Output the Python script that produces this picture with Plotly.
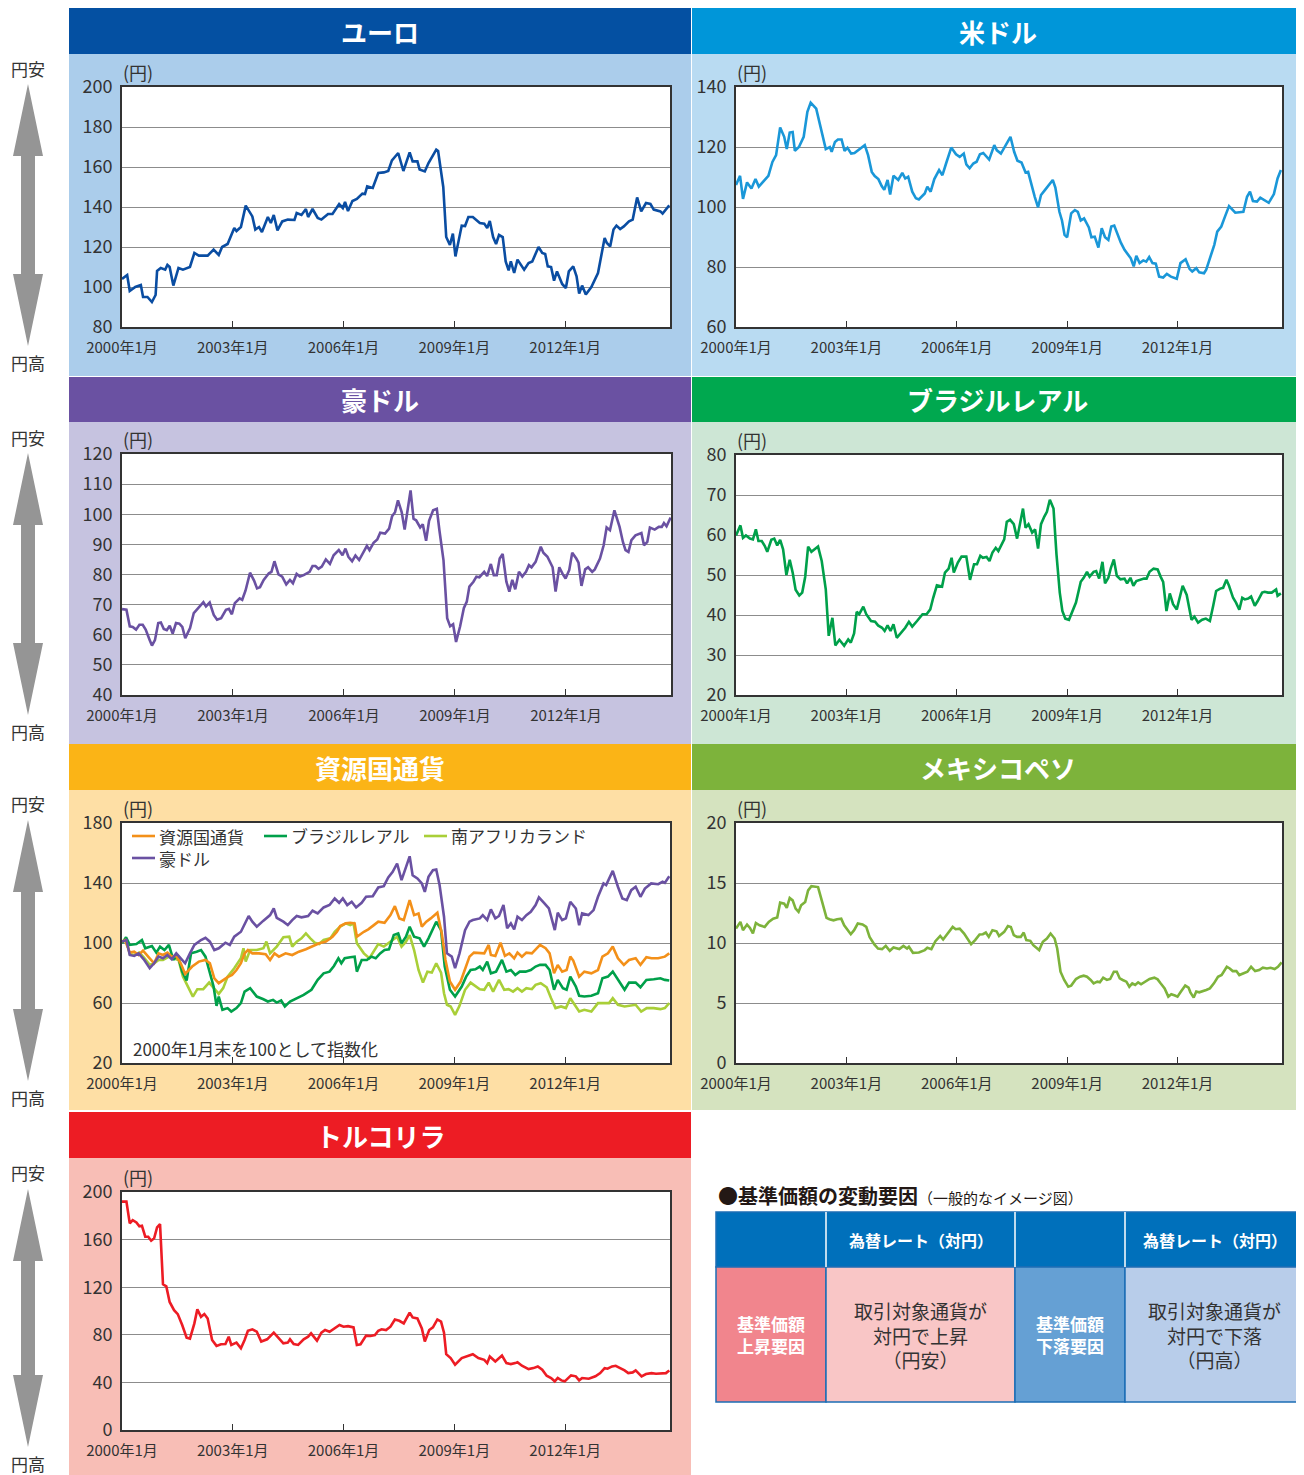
import plotly.graph_objects as go

# The page adds an 8px body margin, so the figure is drawn 8px smaller and
# all positions (given in reference-image pixels) are shifted by that margin.
OFF = 8
W, H = 1304 - OFF, 1475 - OFF
FONT = "Noto Sans CJK JP"

def px(x):
    return (x - OFF) / W

def py(y):
    return 1 - (y - OFF) / H

# ---------------- data (decimal year, value in yen) ----------------
EUR_T = [2000.00, 2000.14, 2000.21, 2000.36, 2000.51, 2000.57, 2000.69, 2000.81, 2000.91, 2000.95,
         2001.05, 2001.17, 2001.23, 2001.29, 2001.39, 2001.53, 2001.65, 2001.84, 2001.96, 2002.08,
         2002.32, 2002.48, 2002.62, 2002.71, 2002.86, 2003.04, 2003.10, 2003.22, 2003.35, 2003.53,
         2003.61, 2003.71, 2003.79, 2003.95, 2004.03, 2004.11, 2004.21, 2004.34, 2004.49, 2004.67,
         2004.73, 2004.86, 2004.98, 2005.04, 2005.16, 2005.30, 2005.40, 2005.58, 2005.70, 2005.88,
         2005.98, 2006.04, 2006.12, 2006.24, 2006.36, 2006.51, 2006.58, 2006.64, 2006.79, 2006.94,
         2007.09, 2007.21, 2007.31, 2007.48, 2007.62, 2007.79, 2007.87, 2008.00, 2008.06, 2008.20,
         2008.30, 2008.38, 2008.51, 2008.56, 2008.70, 2008.78, 2008.88, 2008.96, 2009.03, 2009.20,
         2009.29, 2009.38, 2009.50, 2009.69, 2009.81, 2009.89, 2009.96, 2010.05, 2010.13, 2010.21,
         2010.31, 2010.39, 2010.47, 2010.53, 2010.62, 2010.71, 2010.89, 2011.01, 2011.11, 2011.28,
         2011.38, 2011.46, 2011.53, 2011.62, 2011.70, 2011.78, 2011.92, 2012.02, 2012.10, 2012.22,
         2012.31, 2012.38, 2012.46, 2012.56, 2012.71, 2012.89, 2012.98, 2013.07, 2013.13, 2013.22,
         2013.31, 2013.39, 2013.49, 2013.59, 2013.73, 2013.83, 2013.95, 2014.06, 2014.19, 2014.31,
         2014.40, 2014.58, 2014.64, 2014.82]
EUR_V = [104, 106, 98, 100, 101, 95, 95, 92.5, 96, 108,
         109.5, 108.7, 111, 110, 100.7, 109.5, 108.7, 110, 117, 115.7,
         115.7, 118.7, 116, 120, 121.5, 129.5, 128, 130, 140.7, 135.3,
         128.7, 130, 127.5, 135, 132, 136, 128.3, 132.8, 133.7, 133.5,
         137, 136, 139, 135, 139, 134.5, 133.7, 136.5, 136.5, 141.5,
         139.5, 142.5, 138, 143, 144, 146.7, 146.5, 150.3, 149.5, 157,
         157.3, 158, 163.3, 167, 158, 167.3, 162.8, 162.8, 158.7, 157.8,
         162, 164.5, 168.7, 168, 150, 125, 121, 126.7, 115.3, 130.7,
         130.5, 135, 135, 132, 131.7, 129.5, 133, 125, 121.5, 126,
         125, 112.8, 108.3, 112.8, 107, 113.7, 108.7, 112, 112.8, 120,
         117, 116.5, 110.3, 110, 103.2, 107.8, 101.5, 99.5, 107.8, 110.3,
         105.3, 96.7, 100.7, 96.2, 100, 107, 115.3, 124.5, 122, 120.3,
         128.7, 130.7, 129, 130.3, 132.8, 133.7, 144.8, 137.8, 142, 141.5,
         138.7, 137.8, 136.7, 140.8]

USD_T = [2000.00, 2000.11, 2000.19, 2000.30, 2000.42, 2000.53, 2000.62, 2000.77, 2000.88, 2000.99,
         2001.09, 2001.20, 2001.31, 2001.38, 2001.46, 2001.54, 2001.60, 2001.71, 2001.84, 2001.94,
         2002.03, 2002.18, 2002.31, 2002.44, 2002.55, 2002.60, 2002.69, 2002.77, 2002.87, 2002.95,
         2003.03, 2003.13, 2003.22, 2003.32, 2003.50, 2003.59, 2003.69, 2003.77, 2003.87, 2003.96,
         2004.03, 2004.12, 2004.19, 2004.28, 2004.41, 2004.52, 2004.60, 2004.68, 2004.79, 2004.89,
         2004.97, 2005.13, 2005.20, 2005.29, 2005.39, 2005.52, 2005.61, 2005.71, 2005.85, 2005.98,
         2006.08, 2006.19, 2006.26, 2006.35, 2006.45, 2006.54, 2006.63, 2006.72, 2006.88, 2007.02,
         2007.09, 2007.20, 2007.34, 2007.46, 2007.56, 2007.65, 2007.76, 2007.87, 2007.94, 2008.05,
         2008.12, 2008.21, 2008.29, 2008.40, 2008.50, 2008.61, 2008.68, 2008.79, 2008.86, 2008.93,
         2009.00, 2009.11, 2009.21, 2009.29, 2009.37, 2009.46, 2009.59, 2009.66, 2009.75, 2009.85,
         2009.94, 2010.03, 2010.12, 2010.20, 2010.28, 2010.36, 2010.46, 2010.56, 2010.65, 2010.73,
         2010.81, 2010.88, 2010.97, 2011.07, 2011.15, 2011.23, 2011.32, 2011.41, 2011.50, 2011.61,
         2011.71, 2011.82, 2011.98, 2012.08, 2012.22, 2012.33, 2012.40, 2012.51, 2012.59, 2012.72,
         2012.78, 2012.89, 2013.00, 2013.08, 2013.19, 2013.29, 2013.40, 2013.57, 2013.79, 2013.89,
         2013.97, 2014.05, 2014.16, 2014.25, 2014.37, 2014.48, 2014.62, 2014.72, 2014.81]
USD_V = [107.3, 110.4, 102.7, 108.2, 106.2, 109.3, 106.8, 108.8, 110.4, 115,
         117.3, 126.5, 123.4, 119.3, 124.8, 125, 118.7, 120, 123.4, 131.7,
         134.8, 132.8, 126.2, 119.3, 120, 118.4, 121.7, 122.5, 122.5, 118.7,
         119.7, 117.8, 118, 118.9, 120.6, 117.3, 111.7, 110.3, 109.3, 107,
         105.7, 109, 104.2, 110.4, 109, 111.4, 109.5, 110.1, 105.1, 102.9,
         102.5, 104.5, 106.8, 105.1, 109.3, 112.3, 110.6, 114.5, 119.8, 117.6,
         116.7, 117.8, 114.2, 112.9, 114.5, 115.1, 117.6, 118, 115.8, 120.6,
         118.9, 117.8, 120.9, 123.4, 118.4, 115.4, 114.8, 111.5, 111.7, 106.2,
         103.4, 99.9, 104, 105.7, 107.3, 109, 106.5, 98.4, 95.5, 90.7,
         89.9, 97.9, 99, 98.4, 95.5, 96.2, 93.2, 89.9, 90.1, 86.5,
         92.9, 89.9, 89, 93.5, 93.8, 91.2, 88.1, 85.7, 84, 82.9,
         80.2, 83.7, 81.3, 82.2, 81.8, 83.3, 81.3, 81.1, 76.8, 76.5,
         77.7, 76.8, 76.1, 81.3, 82.6, 79.3, 78.5, 79.6, 78.2, 77.9,
         79.1, 82.9, 87.4, 91.8, 93.5, 96.8, 100.3, 98.1, 98.4, 103.4,
         105.1, 102, 101.8, 103.1, 102.1, 101.4, 104.3, 109.5, 112.3]

AUD_T = [2000.00, 2000.12, 2000.21, 2000.29, 2000.38, 2000.47, 2000.56, 2000.64, 2000.75, 2000.81,
         2000.89, 2000.98, 2001.05, 2001.13, 2001.21, 2001.29, 2001.37, 2001.46, 2001.55, 2001.63,
         2001.71, 2001.84, 2001.94, 2002.08, 2002.20, 2002.27, 2002.37, 2002.48, 2002.57, 2002.68,
         2002.81, 2002.89, 2002.97, 2003.05, 2003.18, 2003.25, 2003.34, 2003.46, 2003.57, 2003.65,
         2003.73, 2003.83, 2003.97, 2004.04, 2004.12, 2004.23, 2004.33, 2004.44, 2004.54, 2004.62,
         2004.72, 2004.81, 2004.91, 2005.07, 2005.15, 2005.23, 2005.31, 2005.40, 2005.51, 2005.62,
         2005.72, 2005.86, 2005.96, 2006.04, 2006.12, 2006.22, 2006.31, 2006.41, 2006.54, 2006.62,
         2006.69, 2006.80, 2006.90, 2006.98, 2007.11, 2007.22, 2007.30, 2007.38, 2007.46, 2007.56,
         2007.64, 2007.71, 2007.80, 2007.88, 2007.95, 2008.06, 2008.13, 2008.22, 2008.30, 2008.41,
         2008.51, 2008.58, 2008.69, 2008.79, 2008.87, 2008.95, 2009.03, 2009.14, 2009.24, 2009.32,
         2009.39, 2009.50, 2009.58, 2009.66, 2009.79, 2009.87, 2009.97, 2010.05, 2010.13, 2010.21,
         2010.29, 2010.39, 2010.47, 2010.55, 2010.63, 2010.73, 2010.82, 2010.92, 2011.00, 2011.07,
         2011.18, 2011.32, 2011.39, 2011.50, 2011.64, 2011.72, 2011.82, 2011.91, 2011.99, 2012.09,
         2012.17, 2012.28, 2012.34, 2012.42, 2012.52, 2012.60, 2012.71, 2012.78, 2012.92, 2013.02,
         2013.10, 2013.19, 2013.25, 2013.31, 2013.45, 2013.54, 2013.61, 2013.69, 2013.77, 2013.88,
         2014.04, 2014.11, 2014.20, 2014.27, 2014.40, 2014.51, 2014.59, 2014.65, 2014.72, 2014.83]
AUD_V = [68.5, 68.3, 62.8, 62.6, 61.7, 63.3, 63.3, 61.7, 58.2, 56.4,
         58.2, 63.9, 64.1, 61.9, 61.5, 63, 60.4, 63.9, 63.7, 62.6,
         58.9, 62.2, 67.2, 69.2, 70.8, 69.4, 70.7, 66.6, 65, 65.5,
         68.3, 68.6, 66.8, 70.5, 72.1, 71.6, 74.7, 80.6, 78, 75.4,
         75.8, 78.2, 80.4, 80.9, 84.4, 80, 79.3, 76.7, 78.2, 77.1,
         80.2, 79.3, 79.8, 80.9, 82.8, 82.8, 81.9, 82.6, 85, 83.5,
         86.4, 88.1, 86.4, 88.6, 85.9, 84.4, 86.3, 84.8, 87.9, 89.5,
         88.1, 90.5, 91.6, 93.9, 93.6, 95.2, 99.3, 100.7, 104.6, 100.7,
         94.9, 101.3, 107.9, 98.5, 98, 95.6, 96.7, 91.2, 97.8, 101.3,
         101.8, 94.7, 84.8, 65.5, 62.8, 63.5, 57.6, 62.8, 68.8, 71,
         76, 77.6, 79.3, 79.1, 80.9, 79.5, 83.5, 79.8, 79.8, 85.3,
         86.8, 77.6, 74.3, 78.2, 75.1, 80.9, 79.3, 80.9, 83.1, 82.4,
         84.2, 89.2, 87.2, 85.9, 82.4, 74.3, 82.4, 80.2, 78.7, 81.5,
         87.2, 85.3, 83.9, 76.2, 81.7, 82.4, 80.9, 81.7, 85.3, 89.7,
         95.6, 94.7, 98.2, 101.3, 95.8, 90.8, 88.1, 87.5, 91.4, 93,
         93.8, 89.7, 90.8, 95.6, 94.9, 95.8, 95.8, 97.1, 96, 98.9]

BRL_T = [2000.00, 2000.12, 2000.19, 2000.27, 2000.38, 2000.46, 2000.54, 2000.61, 2000.70, 2000.78,
         2000.85, 2000.96, 2001.04, 2001.12, 2001.20, 2001.28, 2001.37, 2001.46, 2001.54, 2001.62,
         2001.72, 2001.80, 2001.88, 2001.96, 2002.05, 2002.23, 2002.33, 2002.44, 2002.52, 2002.62,
         2002.70, 2002.81, 2002.94, 2003.05, 2003.12, 2003.21, 2003.28, 2003.35, 2003.46, 2003.54,
         2003.67, 2003.78, 2003.86, 2003.97, 2004.04, 2004.12, 2004.20, 2004.28, 2004.37, 2004.49,
         2004.60, 2004.70, 2004.79, 2004.92, 2005.07, 2005.18, 2005.28, 2005.36, 2005.46, 2005.60,
         2005.68, 2005.78, 2005.86, 2005.92, 2006.03, 2006.13, 2006.26, 2006.36, 2006.47, 2006.55,
         2006.64, 2006.71, 2006.81, 2006.89, 2006.97, 2007.06, 2007.13, 2007.29, 2007.36, 2007.45,
         2007.55, 2007.64, 2007.71, 2007.80, 2007.87, 2007.95, 2008.05, 2008.13, 2008.21, 2008.29,
         2008.38, 2008.45, 2008.53, 2008.63, 2008.71, 2008.80, 2008.87, 2008.95, 2009.05, 2009.14,
         2009.24, 2009.37, 2009.45, 2009.54, 2009.61, 2009.72, 2009.79, 2009.87, 2009.96, 2010.03,
         2010.12, 2010.19, 2010.27, 2010.35, 2010.45, 2010.56, 2010.63, 2010.72, 2010.80, 2010.88,
         2010.98, 2011.09, 2011.16, 2011.24, 2011.35, 2011.46, 2011.54, 2011.61, 2011.70, 2011.79,
         2011.88, 2011.98, 2012.14, 2012.25, 2012.38, 2012.46, 2012.56, 2012.67, 2012.77, 2012.88,
         2012.97, 2013.05, 2013.16, 2013.24, 2013.33, 2013.40, 2013.51, 2013.59, 2013.68, 2013.76,
         2013.83, 2013.92, 2014.00, 2014.10, 2014.18, 2014.30, 2014.37, 2014.46, 2014.56, 2014.68,
         2014.72, 2014.81]
BRL_V = [59.9, 62.4, 59.3, 59.9, 59.1, 58.9, 61.4, 58.5, 58.5, 57.3,
         55.8, 58.8, 59.1, 57.4, 58.8, 56.4, 50, 53.8, 50.6, 46.3,
         44.9, 45.6, 49.5, 57.1, 55.8, 57.1, 53.5, 46.4, 34.8, 39.3,
         32.4, 33.8, 32.3, 33.9, 33.1, 35.4, 40.8, 40.2, 42.1, 40.2,
         38.5, 38.3, 37.4, 36.8, 36, 37.4, 36, 37.7, 34.3, 35.6,
         36.8, 38.3, 37.1, 38.5, 40.2, 40.2, 41.4, 44.3, 47.4, 47.1,
         50.6, 51.6, 54.3, 50.6, 53.1, 54.6, 54.6, 48.8, 52.7, 52.7,
         54.8, 54.3, 54.5, 53.5, 55.6, 56.8, 56, 58.9, 63.3, 63.8,
         62.7, 59.1, 62.7, 66.6, 61.8, 62.7, 60.6, 61.4, 56.6, 62.7,
         64.6, 65.8, 68.8, 66.6, 55.2, 45.6, 41, 39.1, 38.8, 40.8,
         43.1, 48.3, 49.3, 50.8, 49.6, 50.8, 51, 49.1, 53.3, 47.9,
         49.3, 51.8, 53.9, 49.8, 48.9, 49.1, 47.9, 49.3, 47.3, 48.5,
         48.8, 49.1, 49.1, 50.8, 51.6, 51.4, 49.6, 48.3, 41, 45.4,
         42.7, 41.4, 47.3, 45, 38.8, 39.6, 38.1, 38.8, 39.1, 38.5,
         42.3, 46, 46.6, 46.8, 48.8, 47.3, 44.3, 43.1, 41.3, 44.3,
         43.9, 44.1, 44.6, 42.3, 43.5, 45.6, 45.8, 45.6, 45.6, 46.4,
         44.8, 45.4]

MXN_T = [2000.00, 2000.12, 2000.19, 2000.30, 2000.38, 2000.46, 2000.54, 2000.64, 2000.78, 2000.89,
         2001.01, 2001.12, 2001.20, 2001.31, 2001.38, 2001.46, 2001.54, 2001.62, 2001.70, 2001.77,
         2001.88, 2001.96, 2002.05, 2002.23, 2002.33, 2002.46, 2002.54, 2002.65, 2002.75, 2002.86,
         2002.94, 2003.04, 2003.12, 2003.21, 2003.31, 2003.44, 2003.54, 2003.63, 2003.76, 2003.86,
         2003.97, 2004.07, 2004.18, 2004.28, 2004.44, 2004.55, 2004.65, 2004.70, 2004.81, 2004.97,
         2005.13, 2005.20, 2005.31, 2005.42, 2005.55, 2005.63, 2005.74, 2005.83, 2005.89, 2005.97,
         2006.08, 2006.20, 2006.29, 2006.39, 2006.50, 2006.62, 2006.71, 2006.79, 2006.87, 2006.97,
         2007.08, 2007.15, 2007.29, 2007.39, 2007.47, 2007.55, 2007.64, 2007.74, 2007.82, 2007.89,
         2008.00, 2008.08, 2008.24, 2008.34, 2008.45, 2008.55, 2008.66, 2008.73, 2008.82, 2008.92,
         2009.03, 2009.11, 2009.24, 2009.35, 2009.45, 2009.54, 2009.64, 2009.72, 2009.82, 2009.89,
         2009.98, 2010.08, 2010.17, 2010.27, 2010.35, 2010.43, 2010.51, 2010.61, 2010.69, 2010.77,
         2010.85, 2010.93, 2011.01, 2011.12, 2011.24, 2011.37, 2011.46, 2011.54, 2011.65, 2011.75,
         2011.83, 2011.93, 2012.00, 2012.08, 2012.21, 2012.30, 2012.35, 2012.44, 2012.51, 2012.59,
         2012.67, 2012.78, 2012.88, 2012.99, 2013.10, 2013.20, 2013.34, 2013.42, 2013.50, 2013.60,
         2013.68, 2013.79, 2013.90, 2014.00, 2014.11, 2014.22, 2014.32, 2014.43, 2014.53, 2014.64,
         2014.73, 2014.83]
MXN_V = [11.2, 11.76, 11.07, 11.54, 11.26, 10.79, 11.67, 11.48, 11.34, 11.76,
         12.03, 12.12, 13.36, 13.28, 12.92, 13.75, 13.55, 12.86, 12.59, 13.14,
         13.42, 14.38, 14.74, 14.66, 13.55, 12.09, 11.98, 11.89, 11.98, 12.03,
         11.48, 11.07, 10.73, 11.07, 11.62, 11.54, 11.34, 10.51, 9.88, 9.54,
         9.49, 9.76, 9.35, 9.63, 9.49, 9.76, 9.54, 9.68, 9.18, 9.21,
         9.41, 9.6, 9.49, 10.15, 10.59, 10.29, 10.71, 11.07, 11.34, 11.15,
         11.2, 10.79, 10.32, 9.9, 10.24, 10.71, 10.73, 10.87, 10.51, 11.07,
         10.98, 10.59, 10.93, 11.42, 11.34, 10.65, 10.51, 10.51, 10.87, 10.24,
         10.18, 9.82, 9.41, 10.1, 10.37, 10.79, 10.37, 9.54, 7.61, 6.92,
         6.36, 6.45, 7.0, 7.19, 7.28, 7.19, 6.92, 6.64, 6.78, 6.72,
         7.11, 6.92, 7.0, 7.61, 7.61, 7.05, 6.92, 6.78, 6.36, 6.64,
         6.5, 6.72, 6.56, 6.78, 7.0, 7.11, 6.97, 6.64, 6.22, 5.53,
         5.73, 5.62, 5.53, 5.89, 6.45, 6.28, 5.89, 5.45, 5.95, 5.89,
         5.95, 6.09, 6.22, 6.64, 7.19, 7.33, 8.02, 7.88, 7.66, 7.66,
         7.33, 7.47, 7.61, 8.02, 7.66, 7.75, 7.94, 7.88, 7.94, 7.83,
         8.02, 8.38]

TRY_T = [2000.00, 2000.12, 2000.21, 2000.29, 2000.39, 2000.47, 2000.54, 2000.63, 2000.71, 2000.79,
         2000.87, 2000.95, 2001.03, 2001.11, 2001.20, 2001.29, 2001.41, 2001.51, 2001.63, 2001.75,
         2001.84, 2001.96, 2002.04, 2002.14, 2002.23, 2002.32, 2002.44, 2002.56, 2002.68, 2002.80,
         2002.89, 2002.96, 2003.10, 2003.22, 2003.32, 2003.41, 2003.53, 2003.65, 2003.77, 2003.93,
         2004.11, 2004.25, 2004.37, 2004.49, 2004.55, 2004.65, 2004.77, 2004.92, 2005.04, 2005.12,
         2005.28, 2005.40, 2005.50, 2005.62, 2005.74, 2005.89, 2006.00, 2006.12, 2006.27, 2006.36,
         2006.46, 2006.61, 2006.73, 2006.85, 2006.94, 2007.03, 2007.15, 2007.27, 2007.39, 2007.51,
         2007.63, 2007.79, 2007.87, 2008.00, 2008.12, 2008.20, 2008.32, 2008.42, 2008.54, 2008.64,
         2008.72, 2008.78, 2008.90, 2009.02, 2009.20, 2009.32, 2009.50, 2009.65, 2009.81, 2009.89,
         2009.96, 2010.11, 2010.29, 2010.41, 2010.53, 2010.65, 2010.71, 2010.83, 2011.01, 2011.14,
         2011.26, 2011.38, 2011.50, 2011.62, 2011.72, 2011.80, 2011.90, 2011.99, 2012.16, 2012.29,
         2012.38, 2012.46, 2012.64, 2012.82, 2012.95, 2013.07, 2013.15, 2013.27, 2013.37, 2013.49,
         2013.61, 2013.71, 2013.83, 2013.91, 2014.07, 2014.19, 2014.34, 2014.46, 2014.58, 2014.73,
         2014.82]
TRY_V = [191.9, 191.9, 173.6, 176.4, 174.4, 171.1, 171.6, 162.4, 162.4, 159.1,
         161.1, 170.2, 173, 122.4, 120.7, 107.6, 100.7, 97.4, 88.2, 77.6,
         76.8, 89.6, 101.5, 95.1, 97.4, 93.7, 75.7, 70.7, 72, 72.3,
         78.4, 71.5, 73.4, 68.7, 75.7, 83.4, 84.6, 82.6, 74.3, 76.2,
         81.8, 77.1, 72.9, 73.4, 76.2, 72.3, 71.5, 76.2, 78.4, 81.2,
         75.1, 81.8, 84, 82.6, 85.4, 88.2, 86.8, 87.3, 86.2, 71.5,
         72, 79.3, 79, 79.8, 83.4, 84.6, 84, 86.8, 92.9, 91.8,
         89.6, 98.7, 94.6, 93.7, 85.4, 74.3, 84, 86.2, 92.9, 91,
         81.8, 63.7, 60.4, 54.8, 60.4, 61.8, 63.7, 60.4, 59, 56.2,
         61.8, 57.6, 62.6, 56.2, 55.4, 56.2, 57, 54, 51.2, 52,
         53.4, 50.6, 45.6, 43.7, 40.9, 43.7, 41.7, 40.9, 45.9, 45.1,
         41.7, 43.7, 43.1, 45.1, 47.8, 52, 51.5, 53.4, 54, 52,
         50.1, 47.8, 48.4, 50.1, 45.1, 47, 47.8, 47.3, 47.8, 47.8,
         50.1]

# resource-currency index chart (2000年1月末 = 100)
RES_T = [2000.00, 2000.08, 2000.21, 2000.33, 2000.45, 2000.57, 2000.75, 2000.87, 2000.99, 2001.11,
         2001.23, 2001.35, 2001.47, 2001.59, 2001.71, 2001.90, 2002.08, 2002.26, 2002.38, 2002.50,
         2002.62, 2002.74, 2002.86, 2002.98, 2003.10, 2003.22, 2003.32, 2003.41, 2003.53, 2003.71,
         2003.89, 2004.01, 2004.13, 2004.25, 2004.43, 2004.61, 2004.79, 2004.98, 2005.16, 2005.34,
         2005.52, 2005.70, 2005.82, 2005.91, 2006.06, 2006.18, 2006.30, 2006.36, 2006.55, 2006.67,
         2006.82, 2006.94, 2007.11, 2007.27, 2007.39, 2007.51, 2007.63, 2007.79, 2007.91, 2008.03,
         2008.12, 2008.24, 2008.36, 2008.54, 2008.66, 2008.76, 2008.88, 2009.02, 2009.17, 2009.29,
         2009.41, 2009.53, 2009.69, 2009.81, 2009.93, 2009.99, 2010.11, 2010.25, 2010.37, 2010.49,
         2010.62, 2010.71, 2010.83, 2010.95, 2011.10, 2011.20, 2011.32, 2011.47, 2011.58, 2011.70,
         2011.80, 2011.92, 2012.04, 2012.14, 2012.22, 2012.38, 2012.52, 2012.71, 2012.89, 2013.01,
         2013.16, 2013.29, 2013.43, 2013.59, 2013.73, 2013.91, 2014.04, 2014.20, 2014.34, 2014.52,
         2014.70, 2014.82]
RES_V = [100.9, 102, 93.6, 94.2, 92, 94.9, 89.8, 86.5, 93.1, 92,
         93.6, 90.9, 91.4, 86.5, 79.4, 84.3, 87.6, 88.7, 86.5, 76.5,
         73.2, 75.4, 77.2, 78.7, 82, 86.5, 93.1, 95.3, 93.1, 93.1,
         92.5, 88.7, 93.1, 90.9, 93.1, 92, 94.2, 95.8, 97.6, 99.8,
         100.9, 104.2, 107.5, 111.3, 113.1, 113.5, 113.1, 104.2, 107.5, 109.1,
         111.9, 114.2, 113.5, 118.6, 124.6, 116.4, 115.3, 128.6, 118.6, 119.7,
         110.9, 114.2, 116.4, 120.2, 106.4, 88.7, 74.3, 68.8, 74.3, 83.2,
         90.9, 93.6, 93.1, 93.1, 98.7, 92, 91.4, 100.2, 91.4, 93.1,
         89.8, 93.6, 90.9, 93.6, 93.1, 95.8, 98.7, 96.5, 93.1, 79.8,
         85.4, 80.9, 82, 90.9, 88.3, 77.6, 80.9, 79.8, 82, 90.9,
         93.1, 97.6, 89.8, 85.4, 88.7, 89.8, 85.4, 90.5, 89.8, 89.8,
         90.9, 93.1]

BRLI_T = [2000.00, 2000.11, 2000.21, 2000.39, 2000.54, 2000.63, 2000.81, 2000.93, 2001.03, 2001.15,
          2001.27, 2001.39, 2001.51, 2001.63, 2001.75, 2001.87, 2002.02, 2002.14, 2002.26, 2002.38,
          2002.48, 2002.56, 2002.62, 2002.72, 2002.86, 2002.96, 2003.10, 2003.22, 2003.32, 2003.47,
          2003.65, 2003.83, 2003.95, 2004.09, 2004.19, 2004.31, 2004.41, 2004.55, 2004.73, 2004.92,
          2005.13, 2005.30, 2005.46, 2005.62, 2005.74, 2005.86, 2005.94, 2006.03, 2006.18, 2006.30,
          2006.36, 2006.49, 2006.63, 2006.75, 2006.87, 2006.99, 2007.11, 2007.23, 2007.36, 2007.48,
          2007.57, 2007.69, 2007.79, 2007.91, 2008.06, 2008.18, 2008.30, 2008.42, 2008.51, 2008.64,
          2008.74, 2008.88, 2009.02, 2009.20, 2009.32, 2009.44, 2009.57, 2009.69, 2009.77, 2009.89,
          2009.99, 2010.13, 2010.29, 2010.41, 2010.53, 2010.65, 2010.77, 2010.93, 2011.07, 2011.20,
          2011.32, 2011.47, 2011.58, 2011.70, 2011.80, 2011.94, 2012.04, 2012.14, 2012.29, 2012.38,
          2012.52, 2012.71, 2012.89, 2013.01, 2013.16, 2013.29, 2013.43, 2013.61, 2013.73, 2013.91,
          2014.04, 2014.20, 2014.40, 2014.58, 2014.70, 2014.82]
BRLI_V = [99.8, 103.8, 98.7, 99.3, 102, 96.5, 98, 93.6, 97.6, 95.3,
          98.7, 88.7, 92, 80.9, 75, 93.1, 94.2, 95.3, 90.9, 80.9,
          71, 58.1, 64.3, 55.5, 56.6, 54.3, 56.6, 59.9, 67.6, 69.9,
          64.3, 62.5, 61, 62.1, 60.3, 61.7, 57.7, 61, 63.2, 65.4,
          68.8, 75.4, 79.8, 80.9, 84.7, 89.8, 86.5, 89.8, 90.5, 90.9,
          80.9, 88.7, 88.7, 90.9, 89.8, 93.1, 95.3, 95.8, 105.3, 106.4,
          99.8, 104.2, 110.9, 104.2, 103.1, 97.6, 103.1, 109.1, 114.2, 108.6,
          84.3, 68.8, 64.3, 71, 77.6, 82, 82.5, 84.3, 82, 87.6,
          79.8, 80.9, 88.7, 80.9, 82, 78.7, 80.9, 80.9, 82, 84.3,
          85.4, 85.4, 82, 68.8, 75.4, 69.9, 68.8, 77.6, 71, 64.8,
          64.3, 64.8, 66.5, 76.5, 77.6, 80.9, 75.4, 68.8, 73.6, 73.6,
          70.5, 75.4, 75.8, 76.5, 75.4, 75]

ZAR_T = [2000.00, 2000.11, 2000.21, 2000.33, 2000.47, 2000.59, 2000.75, 2000.87, 2000.99, 2001.11,
         2001.27, 2001.41, 2001.53, 2001.65, 2001.77, 2001.92, 2002.04, 2002.20, 2002.36, 2002.50,
         2002.62, 2002.74, 2002.86, 2003.04, 2003.22, 2003.29, 2003.35, 2003.47, 2003.65, 2003.83,
         2003.91, 2004.01, 2004.19, 2004.37, 2004.53, 2004.61, 2004.73, 2004.86, 2004.98, 2005.10,
         2005.22, 2005.34, 2005.46, 2005.64, 2005.76, 2005.91, 2006.06, 2006.18, 2006.27, 2006.36,
         2006.55, 2006.70, 2006.82, 2006.94, 2007.09, 2007.21, 2007.33, 2007.45, 2007.57, 2007.69,
         2007.79, 2007.91, 2008.03, 2008.15, 2008.27, 2008.39, 2008.51, 2008.64, 2008.72, 2008.80,
         2008.90, 2009.02, 2009.14, 2009.29, 2009.44, 2009.57, 2009.69, 2009.81, 2009.93, 2010.05,
         2010.21, 2010.35, 2010.47, 2010.59, 2010.71, 2010.83, 2010.95, 2011.10, 2011.20, 2011.34,
         2011.50, 2011.62, 2011.74, 2011.89, 2012.02, 2012.14, 2012.29, 2012.38, 2012.52, 2012.71,
         2012.89, 2013.04, 2013.19, 2013.29, 2013.43, 2013.61, 2013.79, 2013.91, 2014.06, 2014.21,
         2014.40, 2014.58, 2014.70, 2014.82]
ZAR_V = [100.9, 102.4, 92.7, 92, 93.6, 90.5, 85.4, 86.5, 88.7, 88.7,
         90.9, 89.8, 88.7, 77.6, 72.1, 64.3, 69.2, 69.2, 73.6, 69.2,
         66.1, 69.9, 77.6, 83.2, 89.8, 96.5, 87.6, 95.3, 95.3, 96.5,
         100.9, 93.1, 97.6, 103.8, 104.2, 97.6, 100.9, 103.1, 106.4, 103.1,
         100.2, 99.3, 102, 103.1, 107.5, 110.9, 113.1, 112, 113.1, 99.8,
         93.1, 89.8, 94.2, 99.3, 97.6, 99.8, 102, 104.2, 97.6, 100.9,
         105.3, 95.3, 82, 73.6, 80.9, 80.3, 86.5, 80.3, 66.5, 58.8,
         57.7, 52.1, 58.1, 68.8, 73.6, 71, 69.2, 68.8, 73.6, 67.6,
         75.4, 68.8, 69.2, 67.6, 69.9, 67.6, 69.9, 69.2, 72.1, 73.2,
         70.5, 63.2, 56.6, 57.7, 56.6, 63.2, 57.7, 54.3, 55.5, 54.3,
         59.9, 59.9, 59.9, 63.2, 58.8, 57.7, 58.1, 58.8, 54.3, 56.6,
         56.6, 55.9, 56.6, 59.9]

AUDI_T = [2000.00, 2000.12, 2000.21, 2000.33, 2000.45, 2000.59, 2000.75, 2000.87, 2000.99, 2001.11,
          2001.23, 2001.35, 2001.47, 2001.59, 2001.71, 2001.84, 2001.96, 2002.14, 2002.26, 2002.38,
          2002.50, 2002.62, 2002.80, 2002.92, 2003.04, 2003.22, 2003.43, 2003.53, 2003.65, 2003.83,
          2004.01, 2004.11, 2004.19, 2004.37, 2004.49, 2004.61, 2004.73, 2004.86, 2005.04, 2005.16,
          2005.30, 2005.46, 2005.62, 2005.76, 2005.88, 2005.98, 2006.10, 2006.22, 2006.34, 2006.49,
          2006.61, 2006.79, 2006.94, 2007.09, 2007.21, 2007.33, 2007.45, 2007.57, 2007.67, 2007.79,
          2007.87, 2008.00, 2008.12, 2008.20, 2008.30, 2008.42, 2008.51, 2008.60, 2008.72, 2008.80,
          2008.93, 2009.02, 2009.14, 2009.29, 2009.41, 2009.50, 2009.69, 2009.77, 2009.89, 2009.99,
          2010.11, 2010.21, 2010.33, 2010.43, 2010.53, 2010.62, 2010.71, 2010.83, 2010.95, 2011.07,
          2011.20, 2011.29, 2011.44, 2011.56, 2011.72, 2011.80, 2011.92, 2012.02, 2012.14, 2012.29,
          2012.38, 2012.46, 2012.63, 2012.77, 2012.89, 2013.04, 2013.11, 2013.19, 2013.29, 2013.43,
          2013.55, 2013.67, 2013.79, 2013.91, 2014.04, 2014.16, 2014.33, 2014.52, 2014.64, 2014.70,
          2014.82]
AUDI_V = [100.9, 102, 92, 91.4, 93.1, 89.1, 83.2, 86.5, 90.9, 89.8,
          92, 89.1, 93.1, 89.8, 86.5, 93.1, 98.7, 102, 103.5, 100.9,
          95.3, 96.5, 100.2, 98.7, 104.2, 107.5, 118, 114.2, 110.9, 114.9,
          118.6, 123, 116.8, 114.2, 112, 115.3, 118, 117.1, 118, 121.5,
          119.7, 123.7, 125.3, 129.7, 126.8, 129.7, 125.3, 127.5, 123.7, 126.8,
          130.8, 131.2, 137, 137.9, 143.7, 147.4, 153, 141.9, 149, 157.8,
          145.2, 143, 139.7, 134.1, 144.1, 148.5, 149, 138.6, 117.5, 93.1,
          90.9, 83.2, 93.1, 108.6, 114.2, 115.3, 116.4, 118.6, 115.3, 122.4,
          116.4, 118, 125.3, 109.8, 113.1, 109.1, 117.5, 115.3, 118.6, 120.8,
          125.3, 130.4, 126.4, 123, 108.6, 120.2, 115.3, 116.4, 127.5, 123,
          111.8, 119.7, 118.6, 121.9, 130.8, 139.7, 138.6, 143, 148.1, 137.5,
          129.7, 128.6, 135.2, 137.5, 130.8, 136.3, 139.7, 139.2, 140.8, 140.1,
          144.5]

YEAR_TICKS = [2000, 2003, 2006, 2009, 2012]
YEAR_TEXT = ["2000年1月", "2003年1月", "2006年1月", "2009年1月", "2012年1月"]

# ---------------- panel definitions ----------------
LEFT = (122, 670)
RIGHT = (736, 1282)
panels = [
    dict(n=1, title="ユーロ", hx=(69, 691), hy=(8, 54), by=376, hc="#0450A2", bc="#ABCDEB",
         px_=LEFT, py_=(87, 327), yr=(80, 200), dt=20),
    dict(n=2, title="米ドル", hx=(692, 1304), hy=(8, 54), by=376, hc="#0096D9", bc="#B9DBF2",
         px_=RIGHT, py_=(87, 327), yr=(60, 140), dt=20),
    dict(n=3, title="豪ドル", hx=(69, 691), hy=(377, 422), by=744, hc="#6A51A2", bc="#C6C3E0",
         px_=(122, 671), py_=(454, 695), yr=(40, 120), dt=10),
    dict(n=4, title="ブラジルレアル", hx=(692, 1304), hy=(377, 422), by=744, hc="#00A84F", bc="#CDE6D5",
         px_=RIGHT, py_=(455, 695), yr=(20, 80), dt=10),
    dict(n=5, title="資源国通貨", hx=(69, 691), hy=(744, 790), by=1110, hc="#FBB416", bc="#FEDFA5",
         px_=LEFT, py_=(823, 1063), yr=(20, 180), dt=40),
    dict(n=6, title="メキシコペソ", hx=(692, 1304), hy=(744, 790), by=1110, hc="#7DB33B", bc="#D5E3BF",
         px_=RIGHT, py_=(823, 1063), yr=(0, 20), dt=5),
    dict(n=7, title="トルコリラ", hx=(69, 691), hy=(1112, 1158), by=1475, hc="#ED1C24", bc="#F8BEB6",
         px_=LEFT, py_=(1192, 1430), yr=(0, 200), dt=40),
]

series = [
    (1, EUR_T, EUR_V, "#0A4DA2", "ユーロ"),
    (2, USD_T, USD_V, "#1A97D8", "米ドル"),
    (3, AUD_T, AUD_V, "#6A51A2", "豪ドル"),
    (4, BRL_T, BRL_V, "#00A04A", "ブラジルレアル"),
    (6, MXN_T, MXN_V, "#7DB33B", "メキシコペソ"),
    (7, TRY_T, TRY_V, "#ED1C24", "トルコリラ"),
    (5, ZAR_T, ZAR_V, "#A9CF38", "南アフリカランド"),
    (5, BRLI_T, BRLI_V, "#00A04A", "ブラジルレアル"),
    (5, RES_T, RES_V, "#F39019", "資源国通貨"),
    (5, AUDI_T, AUDI_V, "#6A51A2", "豪ドル"),
]

fig = go.Figure()
shapes = []
annotations = []

for p in panels:
    n = p["n"]
    x0, x1 = p["hx"]
    shapes.append(dict(type="rect", xref="paper", yref="paper", layer="below",
                       x0=px(x0), x1=px(x1), y0=py(p["hy"][1]), y1=py(p["hy"][0]),
                       fillcolor=p["hc"], line=dict(width=0)))
    shapes.append(dict(type="rect", xref="paper", yref="paper", layer="below",
                       x0=px(x0), x1=px(x1), y0=py(p["by"]), y1=py(p["hy"][1]),
                       fillcolor=p["bc"], line=dict(width=0)))
    l, r = p["px_"]
    t, b = p["py_"]
    shapes.append(dict(type="rect", xref="paper", yref="paper", layer="below",
                       x0=px(l), x1=px(r), y0=py(b), y1=py(t),
                       fillcolor="white", line=dict(width=0)))
    annotations.append(dict(xref="paper", yref="paper", x=px((x0 + x1) / 2), y=py((p["hy"][0] + p["hy"][1]) / 2),
                            text="<b>" + p["title"] + "</b>", showarrow=False,
                            font=dict(family=FONT, size=26, color="white"),
                            xanchor="center", yanchor="middle"))
    annotations.append(dict(xref="paper", yref="paper", x=px(l - 1), y=py(t - 15),
                            text="(円)", showarrow=False,
                            font=dict(family=FONT, size=18, color="#333333"),
                            xanchor="left", yanchor="middle"))
    sfx = "" if n == 1 else str(n)
    fig.layout["xaxis" + sfx] = dict(
        domain=[px(l), px(r)], range=[2000, 2014.84], anchor="y" + sfx, automargin=False,
        tickvals=YEAR_TICKS, ticktext=YEAR_TEXT, ticks="inside", ticklen=6, tickwidth=1.2,
        tickcolor="#333333", showline=True, mirror=True, linecolor="#333333", linewidth=1.6,
        showgrid=False, zeroline=False, ticklabelstandoff=6,
        tickfont=dict(family=FONT, size=15, color="#333333"), fixedrange=True)
    fig.layout["yaxis" + sfx] = dict(
        domain=[py(b), py(t)], range=list(p["yr"]), dtick=p["dt"], tick0=p["yr"][0], anchor="x" + sfx,
        automargin=False,
        showgrid=True, gridcolor="#8C8C8C", gridwidth=1.2, showline=True, mirror=True,
        linecolor="#333333", linewidth=1.6, zeroline=False, ticks="", ticklabelstandoff=4,
        tickfont=dict(family=FONT, size=18, color="#333333"), fixedrange=True)

for n, xs, ys, col, name in series:
    sfx = "" if n == 1 else str(n)
    fig.add_trace(go.Scatter(x=xs, y=ys, mode="lines", name=name, showlegend=False,
                             xaxis="x" + sfx, yaxis="y" + sfx,
                             line=dict(color=col, width=2.6), hoverinfo="skip"))

# legend of the resource-currency chart (drawn manually)
legend_lines = [
    ("#F39019", 132, 836),
    ("#00A04A", 264, 836),
    ("#A9CF38", 424, 836),
    ("#6A51A2", 132, 858),
]
for col, lx, ly in legend_lines:
    shapes.append(dict(type="line", xref="paper", yref="paper", x0=px(lx), x1=px(lx + 23),
                       y0=py(ly), y1=py(ly), line=dict(color=col, width=2.6)))
legend_texts = [
    ("資源国通貨<br>豪ドル", 157, 847),
    ("ブラジルレアル", 289, 836),
    ("南アフリカランド", 449, 836),
]
for txt, lx, ly in legend_texts:
    annotations.append(dict(xref="paper", yref="paper", x=px(lx), y=py(ly), text=txt,
                            showarrow=False, xanchor="left", yanchor="middle", align="left",
                            font=dict(family=FONT, size=17, color="#333333")))
annotations.append(dict(xref="paper", yref="paper", x=px(131), y=py(1048),
                        text="2000年1月末を100として指数化", showarrow=False,
                        xanchor="left", yanchor="middle",
                        font=dict(family=FONT, size=17, color="#333333")))

# 円安 / 円高 arrows on the left
rows = [(68, 84, 346, 362), (437, 453, 715, 731), (803, 820, 1081, 1097), (1172, 1189, 1447, 1463)]
cx = 28
for ty, top, bot, by_ in rows:
    hl, hw, sw = 72, 15, 7
    pts = [(cx, top), (cx + hw, top + hl), (cx + sw, top + hl), (cx + sw, bot - hl), (cx + hw, bot - hl),
           (cx, bot), (cx - hw, bot - hl), (cx - sw, bot - hl), (cx - sw, top + hl), (cx - hw, top + hl)]
    path = "M " + " L ".join(f"{px(a):.5f},{py(c):.5f}" for a, c in pts) + " Z"
    shapes.append(dict(type="path", xref="paper", yref="paper", path=path,
                       fillcolor="#959595", line=dict(width=0)))
    for txt, yy in (("円安", ty), ("円高", by_)):
        annotations.append(dict(xref="paper", yref="paper", x=px(cx), y=py(yy), text=txt,
                                showarrow=False, xanchor="center", yanchor="middle",
                                font=dict(family=FONT, size=17, color="#333333")))

# ---------------- table (基準価額の変動要因) ----------------
annotations.append(dict(xref="paper", yref="paper", x=px(716), y=py(1195),
                        text="<b>●基準価額の変動要因</b><span style='font-size:15px'>（一般的なイメージ図）</span>",
                        showarrow=False, xanchor="left", yanchor="middle",
                        font=dict(family=FONT, size=20, color="#231815")))
cols = [716, 826, 1015, 1125, 1304]
hy0, hy1, by1 = 1212, 1267, 1402
shapes.append(dict(type="rect", xref="paper", yref="paper", x0=px(cols[0]), x1=px(cols[-1]),
                   y0=py(hy1), y1=py(hy0), fillcolor="#0070BB", line=dict(color="#1D6DB5", width=1.5)))
body_fill = ["#F1858D", "#F9C6C6", "#65A0D4", "#B8CDEA"]
for i in range(4):
    shapes.append(dict(type="rect", xref="paper", yref="paper", x0=px(cols[i]), x1=px(cols[i + 1]),
                       y0=py(by1), y1=py(hy1), fillcolor=body_fill[i],
                       line=dict(color="#1D6DB5", width=1.5)))
for c in cols[1:4]:
    shapes.append(dict(type="line", xref="paper", yref="paper", x0=px(c), x1=px(c),
                       y0=py(hy1), y1=py(hy0), line=dict(color="white", width=1.5)))
head_txt = ["", "為替レート（対円）", "", "為替レート（対円）"]
body_txt = ["基準価額<br>上昇要因", "取引対象通貨が<br>対円で上昇<br>（円安）",
            "基準価額<br>下落要因", "取引対象通貨が<br>対円で下落<br>（円高）"]
body_col = ["white", "#333333", "white", "#333333"]
body_size = [17, 19, 17, 19]
for i in range(4):
    xc = px((cols[i] + cols[i + 1]) / 2)
    if head_txt[i]:
        annotations.append(dict(xref="paper", yref="paper", x=xc, y=py((hy0 + hy1) / 2),
                                text="<b>" + head_txt[i] + "</b>", showarrow=False,
                                xanchor="center", yanchor="middle",
                                font=dict(family=FONT, size=16, color="white")))
    txt = "<b>" + body_txt[i] + "</b>" if body_col[i] == "white" else body_txt[i]
    annotations.append(dict(xref="paper", yref="paper", x=xc, y=py((hy1 + by1) / 2),
                            text=txt, showarrow=False, xanchor="center", yanchor="middle",
                            font=dict(family=FONT, size=body_size[i], color=body_col[i])))

fig.update_layout(width=W, height=H, margin=dict(l=0, r=0, t=0, b=0, autoexpand=False),
                  paper_bgcolor="white", plot_bgcolor="rgba(0,0,0,0)",
                  shapes=shapes, annotations=annotations, showlegend=False,
                  font=dict(family=FONT))

fig.write_html("out.html")
